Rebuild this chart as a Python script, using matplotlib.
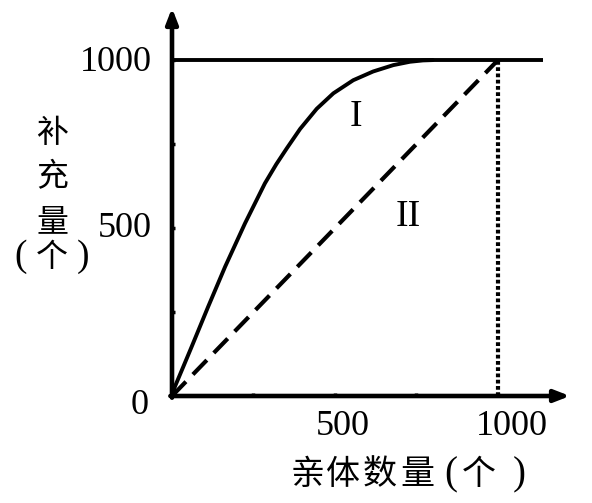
import matplotlib.pyplot as plt

plt.rcParams['font.family'] = ['Liberation Serif', 'Noto Sans CJK SC', 'DejaVu Sans']

# curve I
x_I = [0, 9, 35, 60, 111, 163, 224, 285, 320, 352, 393, 444, 495, 556, 617, 679, 730, 770, 800]
y_I = [0, 28, 88, 146, 266, 385, 514, 633, 690, 737, 795, 855, 901, 940, 966, 985, 995, 999, 1000]
# line II
x_II = [0, 1000]
y_II = [0, 1000]
# horizontal ceiling and vertical drop at 1000
ceiling = 1000
x_ceiling = [0, 1138]

ticks = [250, 500, 750, 1000]
labelled = [500, 1000]


def px_x(px):
    return (px - 172) / 326 * 1000


def px_y(py):
    return (396 - py) / 336 * 1000


fig = plt.figure(figsize=(5.92, 5.03), dpi=100)
ax = fig.add_axes([172/592, 107/503, 398/592, 388/503])
ax.set_xlim(0, 1221)
ax.set_ylim(0, 1155)
ax.axis('off')

# axes with arrows
arrow = dict(arrowstyle='-|>,head_length=0.9,head_width=0.35', lw=3.3, color='black',
             shrinkA=0, shrinkB=0)
ax.annotate('', xy=(1221, 0), xytext=(-5, 0), arrowprops=arrow, annotation_clip=False)
ax.annotate('', xy=(0, 1155), xytext=(0, -5), arrowprops=arrow, annotation_clip=False)

# small tick bumps
for t in ticks:
    ax.plot([t, t], [0, 10], color='black', lw=2.5, solid_capstyle='butt')
    ax.plot([0, 10], [t, t], color='black', lw=2.5, solid_capstyle='butt')

ax.plot(x_ceiling, [ceiling, ceiling], color='black', lw=2.8, solid_capstyle='butt')
ax.plot(x_I, y_I, color='black', lw=2.8, solid_capstyle='round', solid_joinstyle='round')
ax.plot(x_II, y_II, color='black', lw=3, linestyle=(0, (4.8, 2.4)))
ax.plot([1000, 1000], [0, ceiling], color='black', lw=3, linestyle=(0, (0.9, 0.6)),
        dash_capstyle='butt')

ax.text(564, 831, 'I', fontsize=27, ha='center', va='center')
ax.text(724, 533, 'II', fontsize=27, ha='center', va='center')

# tick labels
for v in labelled:
    ax.text(-61, v - 6 if v == 1000 else v, str(v), fontsize=26, ha='right', va='center')
    ax.text(v + 25 + (18 if v == 1000 else 0), -92, str(v), fontsize=26, ha='center', va='center')
ax.text(-98, -27, '0', fontsize=26, ha='center', va='center')

# axis titles
cjk = ['Noto Sans CJK SC']
serif = ['Liberation Serif']
for ch, py in zip(['补', '充', '量'], [133, 177, 222]):
    ax.text(-368, px_y(py), ch, fontsize=23, ha='center', va='center', family=cjk)
for ch, px in zip(['(', '个', ')'], [21, 52, 83]):
    paren = ch in '()'
    ax.text(px_x(px), px_y(257), ch, fontsize=27 if paren else 23, ha='center', va='center',
            family=serif if paren else cjk)
for ch, px in zip(['亲', '体', '数', '量', '(', '个', ')'], [308, 343, 380, 417, 451, 479, 519]):
    paren = ch in '()'
    ax.text(px_x(px), px_y(475), ch, fontsize=28 if paren else 24.5, ha='center', va='center',
            family=serif if paren else cjk)

fig.savefig('out.png', dpi=100)
